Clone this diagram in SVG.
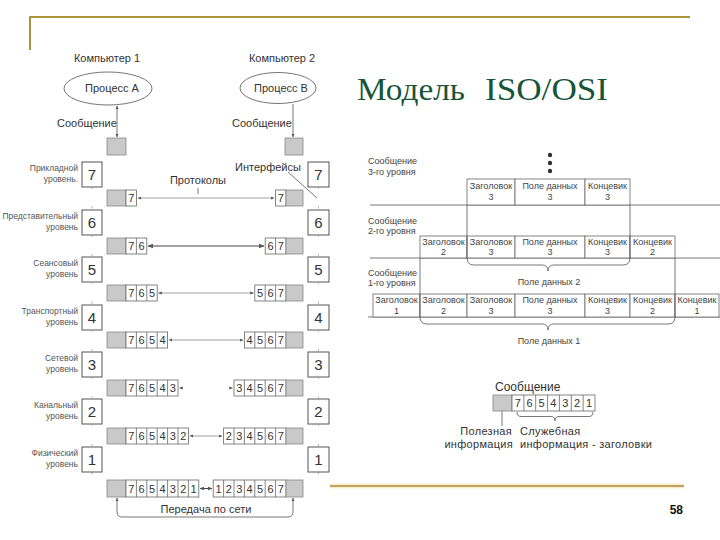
<svg xmlns="http://www.w3.org/2000/svg" width="720" height="540" viewBox="0 0 720 540">
<style>
text{font-family:"Liberation Sans","DejaVu Sans",sans-serif;fill:#333}
.t11{font-size:11px}
.lbl{font-size:8.5px;fill:#555;text-anchor:end}
.num{font-size:15px;text-anchor:middle}
.n{font-size:11px}
.ct{font-size:9px;text-anchor:middle;fill:#444}
.rl{font-size:9px;fill:#444}
.lg{font-size:11px;letter-spacing:0.3px}
.gr{fill:#c9c9c9;stroke:#888;stroke-width:0.8}
.cell{fill:#fff;stroke:#666;stroke-width:0.8}
.lv{fill:#fff;stroke:#555;stroke-width:1}
.dv{stroke:#666;stroke-width:0.8;fill:none}
.ar{stroke:#888;stroke-width:0.8;fill:none}
.ln{stroke:#555;stroke-width:0.8;fill:none}
.tk{stroke:#999;stroke-width:0.7;fill:none}
</style>
<defs>
<marker id="ah" viewBox="0 0 6 6" refX="5.5" refY="3" markerWidth="4.5" markerHeight="4.5" orient="auto-start-reverse"><path d="M0,0.5 L6,3 L0,5.5 z" fill="#555"/></marker>
<marker id="as" viewBox="0 0 6 6" refX="5.5" refY="3" markerWidth="3" markerHeight="3" orient="auto-start-reverse"><path d="M0,0.5 L6,3 L0,5.5 z" fill="#999"/></marker>
</defs>
<rect width="720" height="540" fill="#fff"/>

<g id="frame">
<path d="M30,50 V17 H690" stroke="#a8973a" stroke-width="2" fill="none"/>
<line x1="330" y1="486" x2="684" y2="486" stroke="#fbf0c8" stroke-width="5"/>
<line x1="330" y1="486" x2="684" y2="486" stroke="#c2a066" stroke-width="2"/>
<text x="683" y="514" style="font-size:12px;font-weight:bold;fill:#111;text-anchor:end">58</text>
</g>

<g id="title">
<text x="357" y="100" textLength="108" lengthAdjust="spacingAndGlyphs" style="font-family:'Liberation Serif','DejaVu Serif',serif;font-size:31px;fill:#17553a">Модель</text>
<text x="485" y="100" textLength="123" lengthAdjust="spacingAndGlyphs" style="font-family:'Liberation Serif','DejaVu Serif',serif;font-size:31px;fill:#17553a">ISO/OSI</text>
</g>

<g id="computer1">
<text x="107" y="62" class="t11" text-anchor="middle">Компьютер 1</text>
<ellipse cx="108" cy="88.5" rx="44" ry="16.5" fill="#fff" stroke="#666" stroke-width="0.9"/>
<text x="112" y="92" class="t11" text-anchor="middle">Процесс А</text>
<text x="57" y="127" class="t11">Сообщение</text>
<rect x="107" y="138" width="19" height="17" class="gr"/>
</g>
<g id="computer2">
<text x="282" y="62" class="t11" text-anchor="middle">Компьютер 2</text>
<ellipse cx="278" cy="88" rx="38" ry="15.5" fill="#fff" stroke="#666" stroke-width="0.9"/>
<text x="281" y="92" class="t11" text-anchor="middle">Процесс В</text>
<text x="232" y="127" class="t11">Сообщение</text>
<rect x="285" y="138" width="18" height="17" class="gr"/>
</g>

<g id="levels-left">
<g id="L7"><rect x="82" y="162" width="20" height="25" class="lv"/><text x="92" y="180" class="num">7</text><text x="78" y="171" class="lbl">Прикладной</text><text x="78" y="182" class="lbl">уровень.</text></g>
<g id="L6"><rect x="82" y="210" width="20" height="25" class="lv"/><text x="92" y="228" class="num">6</text><text x="78" y="219" class="lbl">Представительный</text><text x="78" y="230" class="lbl">уровень</text></g>
<g id="L5"><rect x="82" y="257" width="20" height="25" class="lv"/><text x="92" y="275" class="num">5</text><text x="78" y="266" class="lbl">Сеансовый</text><text x="78" y="277" class="lbl">уровень</text></g>
<g id="L4"><rect x="82" y="305" width="20" height="25" class="lv"/><text x="92" y="323" class="num">4</text><text x="78" y="314" class="lbl">Транспортный</text><text x="78" y="325" class="lbl">уровень</text></g>
<g id="L3"><rect x="82" y="352" width="20" height="25" class="lv"/><text x="92" y="370" class="num">3</text><text x="78" y="361" class="lbl">Сетевой</text><text x="78" y="372" class="lbl">уровень</text></g>
<g id="L2"><rect x="82" y="399" width="20" height="25" class="lv"/><text x="92" y="417" class="num">2</text><text x="78" y="408" class="lbl">Канальный</text><text x="78" y="419" class="lbl">уровень</text></g>
<g id="L1"><rect x="82" y="447" width="20" height="25" class="lv"/><text x="92" y="465" class="num">1</text><text x="78" y="456" class="lbl">Физический</text><text x="78" y="467" class="lbl">уровень</text></g>
</g>

<g id="levels-right">
<g id="R7"><rect x="308" y="162" width="21" height="25" class="lv"/><text x="318.5" y="180" class="num">7</text></g>
<g id="R6"><rect x="308" y="210" width="21" height="25" class="lv"/><text x="318.5" y="228" class="num">6</text></g>
<g id="R5"><rect x="308" y="257" width="21" height="25" class="lv"/><text x="318.5" y="275" class="num">5</text></g>
<g id="R4"><rect x="308" y="305" width="21" height="25" class="lv"/><text x="318.5" y="323" class="num">4</text></g>
<g id="R3"><rect x="308" y="352" width="21" height="25" class="lv"/><text x="318.5" y="370" class="num">3</text></g>
<g id="R2"><rect x="308" y="399" width="21" height="25" class="lv"/><text x="318.5" y="417" class="num">2</text></g>
<g id="R1"><rect x="308" y="447" width="21" height="25" class="lv"/><text x="318.5" y="465" class="num">1</text></g>
</g>

<g id="packets-left">
<g id="PL7"><rect x="107" y="190" width="19" height="16" class="gr"/><rect x="126" y="190" width="10.4" height="16" class="cell"/><text class="n" x="128.2" y="202">7</text></g>
<g id="PL6"><rect x="107" y="238" width="19" height="16" class="gr"/><rect x="126" y="238" width="20.8" height="16" class="cell"/><path d="M136.4,238v16" class="dv"/><text class="n" x="128.2 138.6" y="250">76</text></g>
<g id="PL5"><rect x="107" y="285" width="19" height="16" class="gr"/><rect x="126" y="285" width="31.2" height="16" class="cell"/><path d="M136.4,285v16M146.8,285v16" class="dv"/><text class="n" x="128.2 138.6 149" y="297">765</text></g>
<g id="PL4"><rect x="107" y="332" width="19" height="16" class="gr"/><rect x="126" y="332" width="41.6" height="16" class="cell"/><path d="M136.4,332v16M146.8,332v16M157.2,332v16" class="dv"/><text class="n" x="128.2 138.6 149 159.4" y="344">7654</text></g>
<g id="PL3"><rect x="107" y="380" width="19" height="16" class="gr"/><rect x="126" y="380" width="52" height="16" class="cell"/><path d="M136.4,380v16M146.8,380v16M157.2,380v16M167.6,380v16" class="dv"/><text class="n" x="128.2 138.6 149 159.4 169.8" y="392">76543</text></g>
<g id="PL2"><rect x="107" y="428" width="19" height="16" class="gr"/><rect x="126" y="428" width="62.4" height="16" class="cell"/><path d="M136.4,428v16M146.8,428v16M157.2,428v16M167.6,428v16M178,428v16" class="dv"/><text class="n" x="128.2 138.6 149 159.4 169.8 180.2" y="440">765432</text></g>
<g id="PL1"><rect x="107" y="480" width="19" height="17" class="gr"/><rect x="126" y="480" width="72.8" height="17" class="cell"/><path d="M136.4,480v17M146.8,480v17M157.2,480v17M167.6,480v17M178,480v17M188.4,480v17" class="dv"/><text class="n" x="128.2 138.6 149 159.4 169.8 180.2 190.6" y="493">7654321</text></g>
</g>

<g id="packets-right">
<g id="PR7"><rect x="275.6" y="190" width="10.4" height="16" class="cell"/><rect x="286" y="190" width="17" height="16" class="gr"/><text class="n" x="277.8" y="202">7</text></g>
<g id="PR6"><rect x="265.2" y="238" width="20.8" height="16" class="cell"/><path d="M275.6,238v16" class="dv"/><rect x="286" y="238" width="17" height="16" class="gr"/><text class="n" x="267.4 277.8" y="250">67</text></g>
<g id="PR5"><rect x="254.8" y="285" width="31.2" height="16" class="cell"/><path d="M265.2,285v16M275.6,285v16" class="dv"/><rect x="286" y="285" width="17" height="16" class="gr"/><text class="n" x="257 267.4 277.8" y="297">567</text></g>
<g id="PR4"><rect x="244.4" y="332" width="41.6" height="16" class="cell"/><path d="M254.8,332v16M265.2,332v16M275.6,332v16" class="dv"/><rect x="286" y="332" width="17" height="16" class="gr"/><text class="n" x="246.6 257 267.4 277.8" y="344">4567</text></g>
<g id="PR3"><rect x="234" y="380" width="52" height="16" class="cell"/><path d="M244.4,380v16M254.8,380v16M265.2,380v16M275.6,380v16" class="dv"/><rect x="286" y="380" width="17" height="16" class="gr"/><text class="n" x="236.2 246.6 257 267.4 277.8" y="392">34567</text></g>
<g id="PR2"><rect x="223.6" y="428" width="62.4" height="16" class="cell"/><path d="M234,428v16M244.4,428v16M254.8,428v16M265.2,428v16M275.6,428v16" class="dv"/><rect x="286" y="428" width="17" height="16" class="gr"/><text class="n" x="225.8 236.2 246.6 257 267.4 277.8" y="440">234567</text></g>
<g id="PR1"><rect x="213.2" y="480" width="72.8" height="17" class="cell"/><path d="M223.6,480v17M234,480v17M244.4,480v17M254.8,480v17M265.2,480v17M275.6,480v17" class="dv"/><rect x="286" y="480" width="17" height="17" class="gr"/><text class="n" x="215.4 225.8 236.2 246.6 257 267.4 277.8" y="493">1234567</text></g>
</g>

<g id="connectors">
<path d="M117,106 V137" class="ln" marker-start="url(#ah)" marker-end="url(#ah)"/>
<path d="M293,104 V137" class="ln" marker-end="url(#ah)"/>
<path d="M138,198 H274" class="ar" marker-start="url(#ah)" marker-end="url(#ah)"/>
<path d="M148,246 H264" stroke="#444" stroke-width="1.2" fill="none" marker-start="url(#ah)" marker-end="url(#ah)"/>
<path d="M158.5,293 H253.5" class="ar" marker-start="url(#ah)" marker-end="url(#ah)"/>
<path d="M169,340 H243" class="ar" marker-start="url(#ah)" marker-end="url(#ah)"/>
<path d="M182,388 H179.5" class="ar" marker-end="url(#ah)"/>
<path d="M230,388 H232.5" class="ar" marker-end="url(#ah)"/>
<path d="M190,436 H222" class="ar" marker-start="url(#ah)" marker-end="url(#ah)"/>
<path d="M200,488.5 H212" stroke="#444" stroke-width="1" fill="none" marker-start="url(#ah)" marker-end="url(#ah)"/>
<path d="M198,188 V194" class="ln"/>
<path d="M288,172 L317,198" class="ln"/>
<path d="M92,187.5v1.5M92,206v2.5M92,235.5v1.5M92,254v2.5M92,282.5v1.5M92,301.5v2.5M92,330.5v1.5M92,349v2.5M92,377.5v1.5M92,396.5v2.5M92,424.5v1.5M92,444v2.5M92,472.5v1.5" class="tk" marker-end="url(#as)"/>
<path d="M318.5,187.5v1.5M318.5,206v2.5M318.5,235.5v1.5M318.5,254v2.5M318.5,282.5v1.5M318.5,301.5v2.5M318.5,330.5v1.5M318.5,349v2.5M318.5,377.5v1.5M318.5,396.5v2.5M318.5,424.5v1.5M318.5,444v2.5M318.5,472.5v1.5" class="tk" marker-end="url(#as)"/>
<path d="M117,498 V512 Q117,517 122,517 H288 Q293,517 293,512 V498" class="ln" marker-start="url(#ah)" marker-end="url(#ah)"/>
</g>
<text x="206" y="513" class="t11" text-anchor="middle">Передача по сети</text>
<text x="198" y="184" class="t11" text-anchor="middle">Протоколы</text>
<text x="235" y="171" class="t11">Интерфейсы</text>

<g id="encap">
<g id="row-lines" class="ln">
<path d="M370,205 H720 M370,258 H720 M368,317 H720"/>
</g>
<g id="dots" fill="#333"><circle cx="550" cy="155" r="2.2"/><circle cx="550" cy="163" r="2.2"/><circle cx="550" cy="171" r="2.2"/></g>
<text x="368" y="164" class="rl">Сообщение</text><text x="368" y="175" class="rl">3-го уровня</text>
<text x="368" y="224" class="rl">Сообщение</text><text x="368" y="234" class="rl">2-го уровня</text>
<text x="368" y="276" class="rl">Сообщение</text><text x="368" y="286" class="rl">1-го уровня</text>

<g id="msg3">
<rect x="467" y="179" width="48" height="26" class="cell"/><rect x="515" y="179" width="70" height="26" class="cell"/><rect x="585" y="179" width="45" height="26" class="cell"/>
<text x="491" y="189" class="ct">Заголовок</text><text x="491" y="200" class="ct">3</text>
<text x="550" y="189" class="ct">Поле данных</text><text x="550" y="200" class="ct">3</text>
<text x="607.5" y="189" class="ct">Концевик</text><text x="607.5" y="200" class="ct">3</text>
</g>
<g id="msg2">
<rect x="420" y="236" width="47" height="22" class="cell"/><rect x="467" y="236" width="48" height="22" class="cell"/><rect x="515" y="236" width="70" height="22" class="cell"/><rect x="585" y="236" width="45" height="22" class="cell"/><rect x="630" y="236" width="45" height="22" class="cell"/>
<text x="443.5" y="244.5" class="ct">Заголовок</text><text x="443.5" y="255" class="ct">2</text>
<text x="491" y="244.5" class="ct">Заголовок</text><text x="491" y="255" class="ct">3</text>
<text x="550" y="244.5" class="ct">Поле данных</text><text x="550" y="255" class="ct">3</text>
<text x="607.5" y="244.5" class="ct">Концевик</text><text x="607.5" y="255" class="ct">3</text>
<text x="652.5" y="244.5" class="ct">Концевик</text><text x="652.5" y="255" class="ct">2</text>
</g>
<g id="msg1">
<rect x="373" y="294" width="47" height="23" class="cell"/><rect x="420" y="294" width="47" height="23" class="cell"/><rect x="467" y="294" width="48" height="23" class="cell"/><rect x="515" y="294" width="70" height="23" class="cell"/><rect x="585" y="294" width="45" height="23" class="cell"/><rect x="630" y="294" width="45" height="23" class="cell"/><rect x="675" y="294" width="44" height="23" class="cell"/>
<text x="396.5" y="303" class="ct">Заголовок</text><text x="396.5" y="314" class="ct">1</text>
<text x="443.5" y="303" class="ct">Заголовок</text><text x="443.5" y="314" class="ct">2</text>
<text x="491" y="303" class="ct">Заголовок</text><text x="491" y="314" class="ct">3</text>
<text x="550" y="303" class="ct">Поле данных</text><text x="550" y="314" class="ct">3</text>
<text x="607.5" y="303" class="ct">Концевик</text><text x="607.5" y="314" class="ct">3</text>
<text x="652.5" y="303" class="ct">Концевик</text><text x="652.5" y="314" class="ct">2</text>
<text x="697" y="303" class="ct">Концевик</text><text x="697" y="314" class="ct">1</text>
</g>
<g id="braces" class="ln">
<path d="M467,205 V258 Q467,265 474,265 H542 Q548,265 548,271 Q548,265 554,265 H623 Q630,265 630,258 V205"/>
<path d="M420,258 V317 Q420,324 427,324 H542 Q548,324 548,330 Q548,324 554,324 H668 Q675,324 675,317 V258"/>
</g>
<text x="549" y="285" class="ct">Поле данных 2</text>
<text x="549" y="344" class="ct">Поле данных 1</text>
</g>

<g id="legend">
<text x="495" y="391" style="font-size:12px">Сообщение</text>
<rect x="493" y="395" width="19" height="16" class="gr"/>
<rect x="512" y="395" width="83" height="16" class="cell"/>
<path d="M523.9,395v16M535.7,395v16M547.6,395v16M559.4,395v16M571.3,395v16M583.1,395v16" class="dv"/>
<text x="514.8 526.6 538.5 550.3 562.2 574 585.9" y="407" style="font-size:11px">7654321</text>
<path d="M517,412 Q517,416.5 521,416.5 H551 Q555,416.5 555,421 Q555,416.5 559,416.5 H589 Q593,416.5 593,412" class="ln"/>
<path d="M502,411 V426" class="ln"/>
<text x="512" y="435" class="lg" text-anchor="end">Полезная</text>
<text x="513" y="448" class="lg" text-anchor="end">информация</text>
<text x="520" y="435" class="lg">Служебная</text>
<text x="520" y="448" class="lg">информация - заголовки</text>
</g>
</svg>
